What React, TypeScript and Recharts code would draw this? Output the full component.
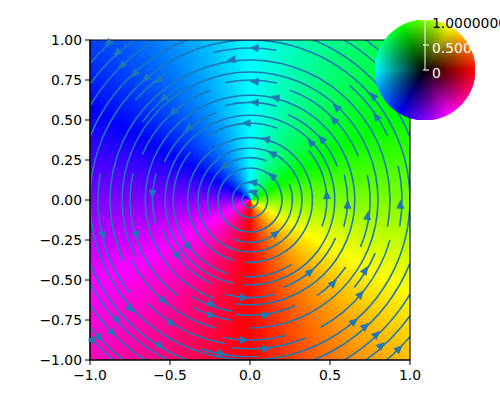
import { ComposedChart, PieChart, Pie, Cell, Scatter, XAxis, YAxis, ReferenceArea } from "recharts"

const xTicks = [-1, -0.5, 0, 0.5, 1]
const yTicks = [-1, -0.75, -0.5, -0.25, 0, 0.25, 0.5, 0.75, 1]
const wheelTicks = [0, 0.5, 1]
const wheelLabels = ["0", "0.5000000", "1.0000000"]

// hue of each 2 degree wedge
const wedgeHues = [
  0, 2, 4, 6, 8, 10, 12, 14, 16, 18, 20, 22, 24, 26, 28, 30, 32, 34, 36, 38, 40, 42, 44, 46, 48, 50, 52, 54, 56, 58,
  60, 62, 64, 66, 68, 70, 72, 74, 76, 78, 80, 82, 84, 86, 88, 90, 92, 94, 96, 98, 100, 102, 104, 106, 108, 110, 112, 114, 116, 118,
  120, 122, 124, 126, 128, 130, 132, 134, 136, 138, 140, 142, 144, 146, 148, 150, 152, 154, 156, 158, 160, 162, 164, 166, 168, 170, 172, 174, 176, 178,
  180, 182, 184, 186, 188, 190, 192, 194, 196, 198, 200, 202, 204, 206, 208, 210, 212, 214, 216, 218, 220, 222, 224, 226, 228, 230, 232, 234, 236, 238,
  240, 242, 244, 246, 248, 250, 252, 254, 256, 258, 260, 262, 264, 266, 268, 270, 272, 274, 276, 278, 280, 282, 284, 286, 288, 290, 292, 294, 296, 298,
  300, 302, 304, 306, 308, 310, 312, 314, 316, 318, 320, 322, 324, 326, 328, 330, 332, 334, 336, 338, 340, 342, 344, 346, 348, 350, 352, 354, 356, 358,
]

// streamline rings: radius in axis units, and the angle spans (degrees) that are drawn
const ringRadii = [
  0.05, 0.11, 0.2, 0.265, 0.325, 0.39, 0.48, 0.53, 0.575, 0.585, 0.61, 0.655, 0.705, 0.72, 0.73, 0.75, 0.76, 0.8, 0.83, 0.85,
  0.875, 0.91, 0.93, 0.95, 0.98, 1.0, 1.075, 1.125, 1.16, 1.195, 1.235, 1.275, 1.315,
]
const ringSpans = [
  [[-180, 180]],
  [[-180, 180]],
  [[-180, 180]],
  [[-113, 22], [67, 180], [-180, -159]],
  [[-180, 180]],
  [[-180, -105], [-94, 180]],
  [[-20, 40], [69, 123], [141, 180], [-180, -107], [-95, -57]],
  [[-180, -101], [-94, 180]],
  [[-161, -115]],
  [[-69, -24], [21, 66], [111, 156]],
  [[-16, 15], [74, 105], [164, 180], [-180, -166], [-105, -75]],
  [[-180, -110], [-98, 180]],
  [[-121, -99]],
  [[-97, -67]],
  [[-55, -35], [22, 70], [110, 157]],
  [[-23, 12], [77, 102], [167, 180], [-180, -127]],
  [[-118, -99]],
  [[-90, 180], [-180, -153]],
  [[123, 144], [-153, -105]],
  [[-40, -23]],
  [[-11, 180], [-180, -154], [-101, -75]],
  [[-61, -16], [-135, -100]],
  [[-97, -68]],
  [[-10, 13], [25, 49], [80, 104], [123, 139], [170, 180], [-180, -142]],
  [[-108, -87]],
  [[-180, 180]],
  [[-180, 180]],
  [[-180, -90]],
  [[-90, 180]],
  [[-180, -90]],
  [[-90, 180]],
  [[-180, -90]],
  [[-180, 180]],
]

const arrowX = [
  0.03, 0.03, 0.03, 0.1, 0.14, 0.14, 0.02, 0.02, 0.16, 0.38, 0.45, 0.525, 0.54, 0.77, 0.79, 0.48,
  0.61, 0.735, 0.94, 0.16, 0.375, 0.52, 0.72, 0.69, 0.65, 0.72, 0.79, 0.82, 0.93, 0.1, 0.1,
  -0.885, -0.83, -0.8, -0.72, -0.65, -0.57, -0.54, -0.48, -0.385, -0.16, -0.02, -0.115, -0.61,
  -0.92, -0.71, -0.385, -0.45, -0.24, -0.24, -0.04, -0.04, -0.18, -0.54, -0.75, -0.49, -0.83, -0.86, -0.56, -0.98, -0.94,
]
const arrowY = [
  0.95, 0.74, 0.61, 0.38, 0.29, 0.15, 0.11, 0.05, 0.64, 0.36, 0.38, 0.5, 0.58, 0.65, 0.52, 0.03,
  -0.03, -0.1, -0.03, -0.21, -0.45, -0.52, -0.44, -0.59, -0.76, -0.79, -0.84, -0.91, -0.93, -0.72, -0.93,
  0.98, 0.92, 0.84, 0.79, 0.76, 0.75, 0.635, 0.55, 0.45, 0.21, 0.48, 0.875, 0.04,
  -0.22, -0.22, -0.29, -0.35, -0.65, -0.72, -0.61, -0.875, -0.96, -0.63, -0.68, -0.77, -0.75, -0.83, -0.91, -0.88, -0.86,
]

const arrows = arrowX.map((x, i) => ({ x, y: arrowY[i] }))
const wedgeData = wedgeHues.map(() => ({ value: 2 }))
const wheelPoints = wheelTicks.map((y) => ({ x: 0, y }))

// turn drawn spans into alternating gap / arc slices, starting at -180
function ringSlices(spans: number[][]) {
  const sorted = [...spans].sort((a, b) => a[0] - b[0])
  const out: { value: number; arc: boolean }[] = []
  let at = -180
  sorted.forEach(([a, b]) => {
    if (a > at) out.push({ value: a - at, arc: false })
    out.push({ value: b - a, arc: true })
    at = b
  })
  if (at < 180) out.push({ value: 180 - at, arc: false })
  return out
}

const BLUE = "#1f77b4"
const PX_PER_UNIT = 160
const FONT = "'DejaVu Sans', sans-serif"

const fmt = (v: number, d: number) => (v < 0 ? "\u2212" : "") + Math.abs(v).toFixed(d)

function ArrowHead(props: any) {
  const { cx, cy, payload } = props
  const angle = (Math.atan2(-payload.x, -payload.y) * 180) / Math.PI
  return <polygon points="4.5,0 -3.5,3.6 -3.5,-3.6" fill={BLUE} stroke={BLUE} strokeWidth={0.6} transform={`translate(${cx},${cy}) rotate(${angle})`} />
}

function WheelTick(props: any) {
  const { x, y, payload } = props
  return (
    <g>
      <line x1={x - 2} x2={x + 4} y1={y} y2={y} stroke="#fff" strokeWidth={1.1} />
      <text x={x + 7} y={y + 8} fontSize={13.9} fontFamily={FONT} fill={payload.value === 1 ? "#000" : "#fff"}>
        {wheelLabels[wheelTicks.indexOf(payload.value)]}
      </text>
    </g>
  )
}

export default function App() {
  return (
    <div style={{ position: "absolute", left: 0, top: 0, width: 500, height: 400, overflow: "hidden", background: "#fff" }}>
      {/* colour field and streamlines */}
      <div style={{ position: "absolute", left: 90, top: 40 }}>
        <PieChart width={320} height={320} margin={{ top: 0, right: 0, bottom: 0, left: 0 }}>
          <Pie data={wedgeData} dataKey="value" cx={160} cy={160} innerRadius={0} outerRadius={240} startAngle={-91} endAngle={269} isAnimationActive={false}>
            {wedgeHues.map((h, i) => (
              <Cell key={i} fill={`hsl(${h},100%,50%)`} stroke={`hsl(${h},100%,50%)`} strokeWidth={1} />
            ))}
          </Pie>
          {ringRadii.map((r, i) => (
            <Pie
              key={i}
              data={ringSlices(ringSpans[i])}
              dataKey="value"
              cx={160}
              cy={160}
              innerRadius={r * PX_PER_UNIT - 0.8}
              outerRadius={r * PX_PER_UNIT + 0.8}
              startAngle={-180}
              endAngle={180}
              stroke="none"
              isAnimationActive={false}
            >
              {ringSlices(ringSpans[i]).map((s, j) => (
                <Cell key={j} fill={s.arc ? BLUE : "none"} stroke="none" />
              ))}
            </Pie>
          ))}
        </PieChart>
      </div>

      {/* axes, frame and arrow heads */}
      <div style={{ position: "absolute", left: 0, top: 0 }}>
        <ComposedChart width={500} height={400} margin={{ top: 40, right: 90, bottom: 10, left: 30 }}>
          <XAxis
            dataKey="x"
            type="number"
            domain={[-1, 1]}
            ticks={xTicks}
            height={30}
            tickFormatter={(v) => fmt(v, 1)}
            stroke="#000"
            tick={{ fill: "#000", fontSize: 13.9, fontFamily: FONT }}
            tickSize={5}
            tickMargin={5}
          />
          <YAxis
            dataKey="y"
            type="number"
            domain={[-1, 1]}
            ticks={yTicks}
            width={60}
            interval={0}
            tickFormatter={(v) => fmt(v, 2)}
            stroke="#000"
            tick={{ fill: "#000", fontSize: 13.9, fontFamily: FONT }}
            tickSize={5}
            tickMargin={3}
          />
          <ReferenceArea x1={-1} x2={1} y1={-1} y2={1} fill="none" stroke="#000" strokeWidth={1.1} />
          <Scatter data={arrows} shape={ArrowHead} isAnimationActive={false} />
        </ComposedChart>
      </div>

      {/* hue / value key */}
      <div style={{ position: "absolute", left: 375, top: 20 }}>
        <PieChart width={100} height={100} margin={{ top: 0, right: 0, bottom: 0, left: 0 }}>
          <defs>
            <radialGradient id="wheelFade" cx="50%" cy="50%" r="50%">
              <stop offset="0%" stopColor="#000" stopOpacity={1} />
              <stop offset="100%" stopColor="#000" stopOpacity={0} />
            </radialGradient>
          </defs>
          <Pie data={wedgeData} dataKey="value" cx={50} cy={50} innerRadius={0} outerRadius={50} startAngle={-1} endAngle={359} isAnimationActive={false}>
            {wedgeHues.map((h, i) => (
              <Cell key={i} fill={`hsl(${h},100%,50%)`} stroke={`hsl(${h},100%,50%)`} strokeWidth={1} />
            ))}
          </Pie>
          <Pie data={[{ value: 1 }]} dataKey="value" cx={50} cy={50} innerRadius={0} outerRadius={50} fill="url(#wheelFade)" stroke="none" isAnimationActive={false} />
        </PieChart>
      </div>
      <div style={{ position: "absolute", left: 405, top: 0 }}>
        <ComposedChart width={120} height={90} margin={{ top: 20, right: 0, bottom: 20, left: 0 }}>
          <XAxis dataKey="x" type="number" domain={[-1, 1]} hide />
          <YAxis
            dataKey="y"
            type="number"
            orientation="right"
            domain={[0, 1]}
            ticks={wheelTicks}
            width={100}
            interval={0}
            stroke="#fff"
            tickLine={false}
            tickSize={0}
            tickMargin={0}
            tick={(p: any) => <WheelTick {...p} />}
          />
          <Scatter data={wheelPoints} shape={() => null} isAnimationActive={false} />
        </ComposedChart>
      </div>
    </div>
  )
}
